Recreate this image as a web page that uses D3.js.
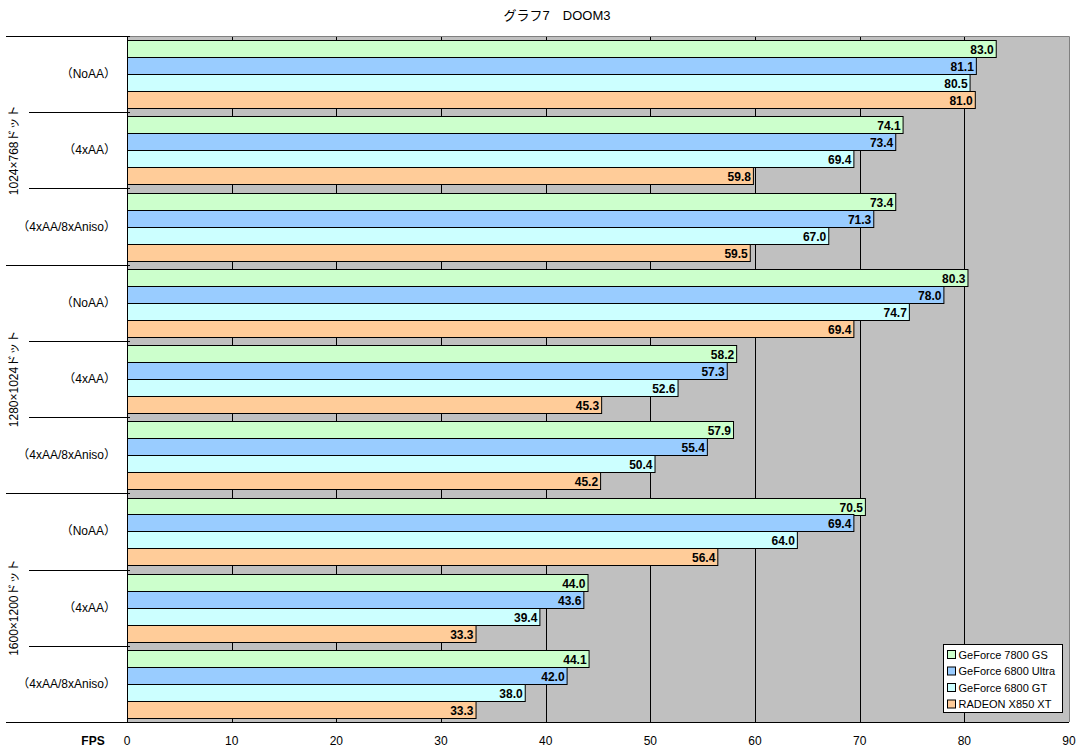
<!DOCTYPE html>
<html>
<head>
<meta charset="utf-8">
<script src="https://cdn.jsdelivr.net/npm/d3@7"></script>
<style>
  body { margin: 0; background: #fff; }
  svg text { font-family: "Liberation Sans", "Noto Sans CJK JP", sans-serif; font-size: 12px; fill: #000; }
  .val { font-weight: bold; }
</style>
</head>
<body>
<div id="svg-area"></div>
<script>
// chart data
const resolutions = ["1024×768ドット", "1280×1024ドット", "1600×1200ドット"];
const settings = ["（NoAA）", "（4xAA）", "（4xAA/8xAniso）"];
const seriesNames = ["GeForce 7800 GS", "GeForce 6800 Ultra", "GeForce 6800 GT", "RADEON X850 XT"];
const seriesColors = ["#ccffcc", "#99ccff", "#ccffff", "#ffcc99"];
const gf7800gs   = [83.0, 74.1, 73.4, 80.3, 58.2, 57.9, 70.5, 44.0, 44.1];
const gf6800u    = [81.1, 73.4, 71.3, 78.0, 57.3, 55.4, 69.4, 43.6, 42.0];
const gf6800gt   = [80.5, 69.4, 67.0, 74.7, 52.6, 50.4, 64.0, 39.4, 38.0];
const radeonX850 = [81.0, 59.8, 59.5, 69.4, 45.3, 45.2, 56.4, 33.3, 33.3];
const xTicks = [0, 10, 20, 30, 40, 50, 60, 70, 80, 90];

const W = 1081, H = 754;
const pL = 127, pR = 1069, pT = 36, pB = 722;

const groups = [];
resolutions.forEach((r, i) => settings.forEach((s, j) => groups.push({ key: i + "-" + j, res: i, set: s })));
const values = [gf7800gs, gf6800u, gf6800gt, radeonX850];

const svg = d3.select('#svg-area').append('svg').attr('width', W).attr('height', H);

const x = d3.scaleLinear().domain([0, 90]).range([pL, pR]);
const y0 = d3.scaleBand().domain(groups.map(d => d.key)).range([pT, pB]).padding(0);
const y1 = d3.scaleBand().domain(d3.range(4))
  .range([y0.bandwidth() * 0.055, y0.bandwidth() * 0.945]).padding(0);

// plot background
svg.append('rect').attr('x', pL).attr('y', pT).attr('width', pR - pL).attr('height', pB - pT)
  .attr('fill', '#c0c0c0');

// gridlines
svg.append('g').selectAll('line').data(xTicks.slice(1, -1)).enter().append('line')
  .attr('x1', d => Math.round(x(d)) + 0.5).attr('x2', d => Math.round(x(d)) + 0.5)
  .attr('y1', pT).attr('y2', pB).attr('stroke', '#000');

// plot border top/right
svg.append('path').attr('d', `M${pL},${pT + 0.5}H${pR + 0.5}V${pB}`)
  .attr('fill', 'none').attr('stroke', '#808080');

// bars
const gBars = svg.append('g');
groups.forEach((g, gi) => {
  values.forEach((vals, si) => {
    const v = vals[gi];
    const yy = Math.round(y0(g.key) + y1(si)) + 0.5;
    const hh = Math.round(y1.bandwidth());
    gBars.append('rect')
      .attr('x', x(0) + 0.5).attr('y', yy)
      .attr('width', x(v) - x(0)).attr('height', hh)
      .attr('fill', seriesColors[si]).attr('stroke', '#000');
    gBars.append('text').attr('class', 'val')
      .attr('x', x(v) - 2).attr('y', yy + hh / 2 + 4.5)
      .attr('text-anchor', 'end').text(v.toFixed(1));
  });
});

// left axis
svg.append('line').attr('x1', pL + 0.5).attr('x2', pL + 0.5).attr('y1', pT).attr('y2', pB).attr('stroke', '#000');
const divs = d3.range(groups.length + 1);
svg.append('g').selectAll('line').data(divs).enter().append('line')
  .attr('x1', i => (i % 3 === 0) ? 6 : 29)
  .attr('x2', pL + 3)
  .attr('y1', i => Math.round(pT + i * y0.step()) + 0.5)
  .attr('y2', i => Math.round(pT + i * y0.step()) + 0.5)
  .attr('stroke', '#000');

// setting labels
svg.append('g').selectAll('text').data(groups).enter().append('text')
  .attr('x', 116).attr('y', d => y0(d.key) + y0.bandwidth() / 2 + 4)
  .attr('text-anchor', 'end').text(d => d.set);

// resolution labels (rotated)
svg.append('g').selectAll('text').data(resolutions).enter().append('text')
  .attr('transform', (d, i) => `translate(18,${pT + (i * 3 + 1.5) * y0.step()}) rotate(-90)`)
  .attr('text-anchor', 'middle').text(d => d);

// bottom axis
svg.append('line').attr('x1', 6).attr('x2', pR).attr('y1', pB + 0.5).attr('y2', pB + 0.5).attr('stroke', '#000');
svg.append('g').selectAll('text').data(xTicks).enter().append('text')
  .attr('x', d => x(d)).attr('y', 745).attr('text-anchor', 'middle').text(d => d);
svg.append('text').attr('x', 93).attr('y', 745).attr('text-anchor', 'middle')
  .style('font-weight', 'bold').text('FPS');

// title
svg.append('text').attr('x', 557).attr('y', 20).attr('text-anchor', 'middle')
  .style('font-size', '13px').text('グラフ7　DOOM3');

// legend
const lg = svg.append('g').attr('transform', 'translate(943.5,644.5)');
lg.append('rect').attr('width', 119).attr('height', 68).attr('fill', '#fff').attr('stroke', '#000');
seriesNames.forEach((n, i) => {
  const cy = 10 + i * 16.5;
  lg.append('rect').attr('x', 4).attr('y', cy - 4).attr('width', 8).attr('height', 8)
    .attr('fill', seriesColors[i]).attr('stroke', '#000');
  lg.append('text').attr('x', 15).attr('y', cy + 4).style('font-size', '11px').text(n);
});
</script>
</body>
</html>
